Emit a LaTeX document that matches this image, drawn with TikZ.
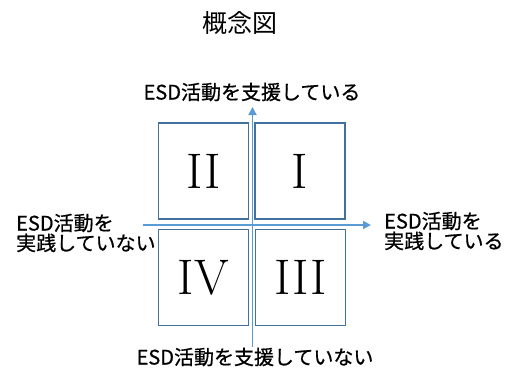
\documentclass[tikz,border=0pt]{standalone}
\usepackage{fontspec}
\usetikzlibrary{arrows.meta}
\newfontfamily\jpfont[FakeBold=0.7]{Noto Sans CJK JP}
\newfontfamily\titlefont{Noto Sans CJK JP}
\definecolor{boxblue}{RGB}{65,113,156}
\definecolor{axisblue}{RGB}{91,155,213}
\tikzset{
  quad/.style={draw=boxblue, line width=1.3pt, minimum width=90pt, minimum height=96pt,
    inner sep=0pt, font=\fontsize{50}{50}\selectfont},
  axis/.style={draw=axisblue, line width=1.8pt, -{Triangle[length=8pt,width=8pt]}},
  lab/.style={font=\jpfont\fontsize{20}{20}\selectfont, inner sep=0pt}
}
\begin{document}
\begin{tikzpicture}[x=1pt,y=-1pt]
\useasboundingbox (0,0) rectangle (507,372);

%% quadrants
\node [quad] (q2) at (203.5,171) {II};
\node [quad] (q1) at (300,171) {I};
\node [quad] (q4) at (203.5,277.5) {IV};
\node [quad] (q3) at (300.5,277.5) {III};

%% axes
\coordinate (xl) at (143,225); % left end of horizontal axis
\coordinate (xr) at (371,225); % right end
\coordinate (yb) at (252.5,347); % bottom end of vertical axis
\coordinate (yt) at (252.5,107); % top end
\draw [axis] (xl) -- (xr);
\draw [axis] (yb) -- (yt);

%% labeling
\node [font=\titlefont\fontsize{25}{25}\selectfont] (title) at (240,23) {概念図};
\node [lab] (top) at (252,92) {ESD活動を支援している};
\node [lab] (bottom) at (255,357) {ESD活動を支援していない};
\node [lab, align=left, anchor=west] (left) at (16,233) {ESD活動を\\実践していない};
\node [lab, align=left, anchor=west] (right) at (384,231) {ESD活動を\\実践している};

\end{tikzpicture}
\end{document}
